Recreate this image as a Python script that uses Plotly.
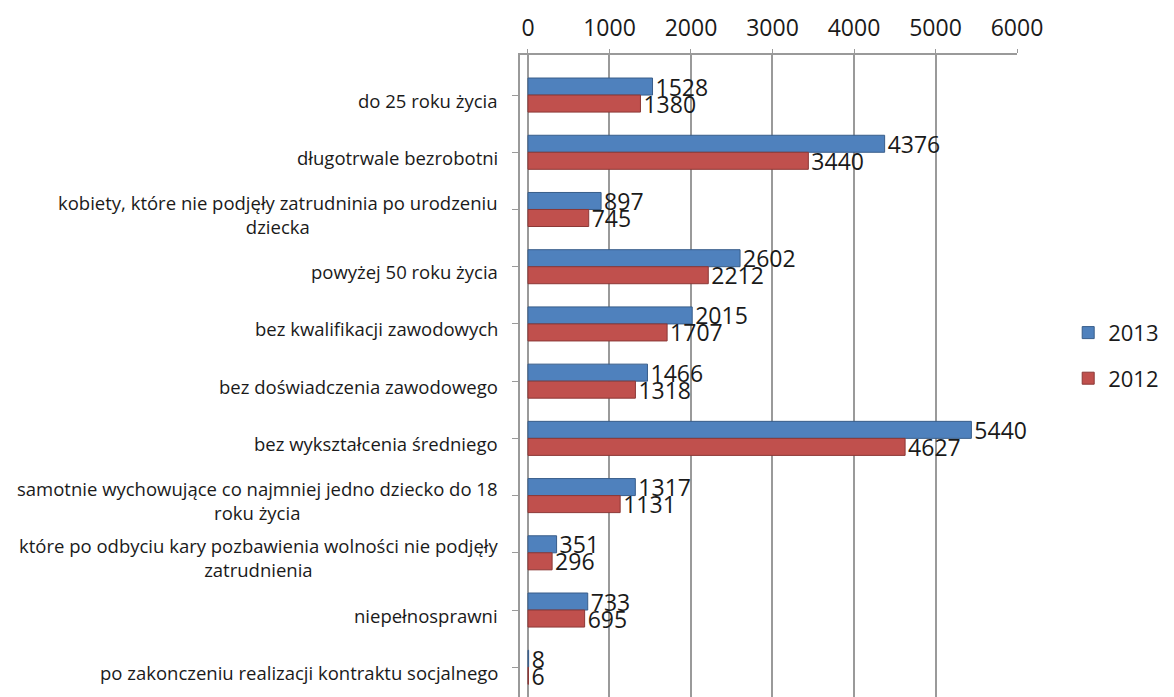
import plotly.graph_objects as go

categories = [
    "do 25 roku życia",
    "długotrwale bezrobotni",
    "kobiety, które nie podjęły zatrudninia po urodzeniu<br>dziecka",
    "powyżej 50 roku życia",
    "bez kwalifikacji zawodowych",
    "bez doświadczenia zawodowego",
    "bez wykształcenia średniego",
    "samotnie wychowujące co najmniej jedno dziecko do 18<br>roku życia",
    "które po odbyciu kary pozbawienia wolności nie podjęły<br>zatrudnienia",
    "niepełnosprawni",
    "po zakonczeniu realizacji kontraktu socjalnego",
]
values_2013 = [1528, 4376, 897, 2602, 2015, 1466, 5440, 1317, 351, 733, 8]
values_2012 = [1380, 3440, 745, 2212, 1707, 1318, 4627, 1131, 296, 695, 6]
x_ticks = [0, 1000, 2000, 3000, 4000, 5000, 6000]

FONT = "Open Sans"
idx = list(range(len(categories)))

fig = go.Figure()
fig.add_trace(go.Bar(
    y=idx, x=values_2013, orientation="h", name="2013",
    marker=dict(color="#4F81BD", line=dict(color="#385D8A", width=1)),
    text=[str(v) for v in values_2013], textposition="outside",
    textfont=dict(family=FONT, size=23, color="#1a1a1a"),
    constraintext="none", cliponaxis=False, legendgroup="a",
))
fig.add_trace(go.Bar(
    y=idx, x=values_2012, orientation="h", name="2012",
    marker=dict(color="#C0504D", line=dict(color="#8C3836", width=1)),
    text=[str(v) for v in values_2012], textposition="outside",
    textfont=dict(family=FONT, size=23, color="#1a1a1a"),
    constraintext="none", cliponaxis=False, legendgroup="b",
))

for i, c in enumerate(categories):
    fig.add_annotation(
        x=0, xref="paper", y=i, yref="y", text=c, showarrow=False,
        xanchor="right", xshift=-20, yshift=-5, align="center",
        font=dict(family=FONT, size=18.5, color="#1a1a1a"),
    )

# the page body adds an 8px offset; the figure is sized to compensate
fig.update_layout(
    width=1166, height=689,
    margin=dict(l=512, r=157, t=47, b=0, autoexpand=False),
    paper_bgcolor="white", plot_bgcolor="white",
    barmode="group", bargap=0.405, bargroupgap=0,
    font=dict(family=FONT, color="#1a1a1a"),
    legend=dict(
        x=1.103, xanchor="left", y=0.6, yanchor="top",
        font=dict(family=FONT, size=22), tracegroupgap=14,
        itemwidth=30,
    ),
    xaxis=dict(
        side="top", range=[-98, 6000], tickvals=x_ticks,
        ticktext=[str(t) for t in x_ticks], automargin=False,
        showgrid=True, gridcolor="#9a9a9a", gridwidth=2,
        zeroline=False, showline=True, linecolor="#9a9a9a", linewidth=2,
        ticks="outside", ticklen=4, tickcolor="#9a9a9a",
        ticklabelstandoff=4,
        tickfont=dict(family=FONT, size=23, color="#1a1a1a"),
        fixedrange=True,
    ),
    yaxis=dict(
        range=[10.52, -0.70], tickvals=idx, ticktext=[""] * len(idx),
        showgrid=False, zeroline=False, showline=True, linecolor="#9a9a9a",
        linewidth=2, ticks="outside", ticklen=6, tickcolor="#9a9a9a",
        tickson="boundaries", type="linear", automargin=False,
    ),
)

fig.write_html("out.html")
